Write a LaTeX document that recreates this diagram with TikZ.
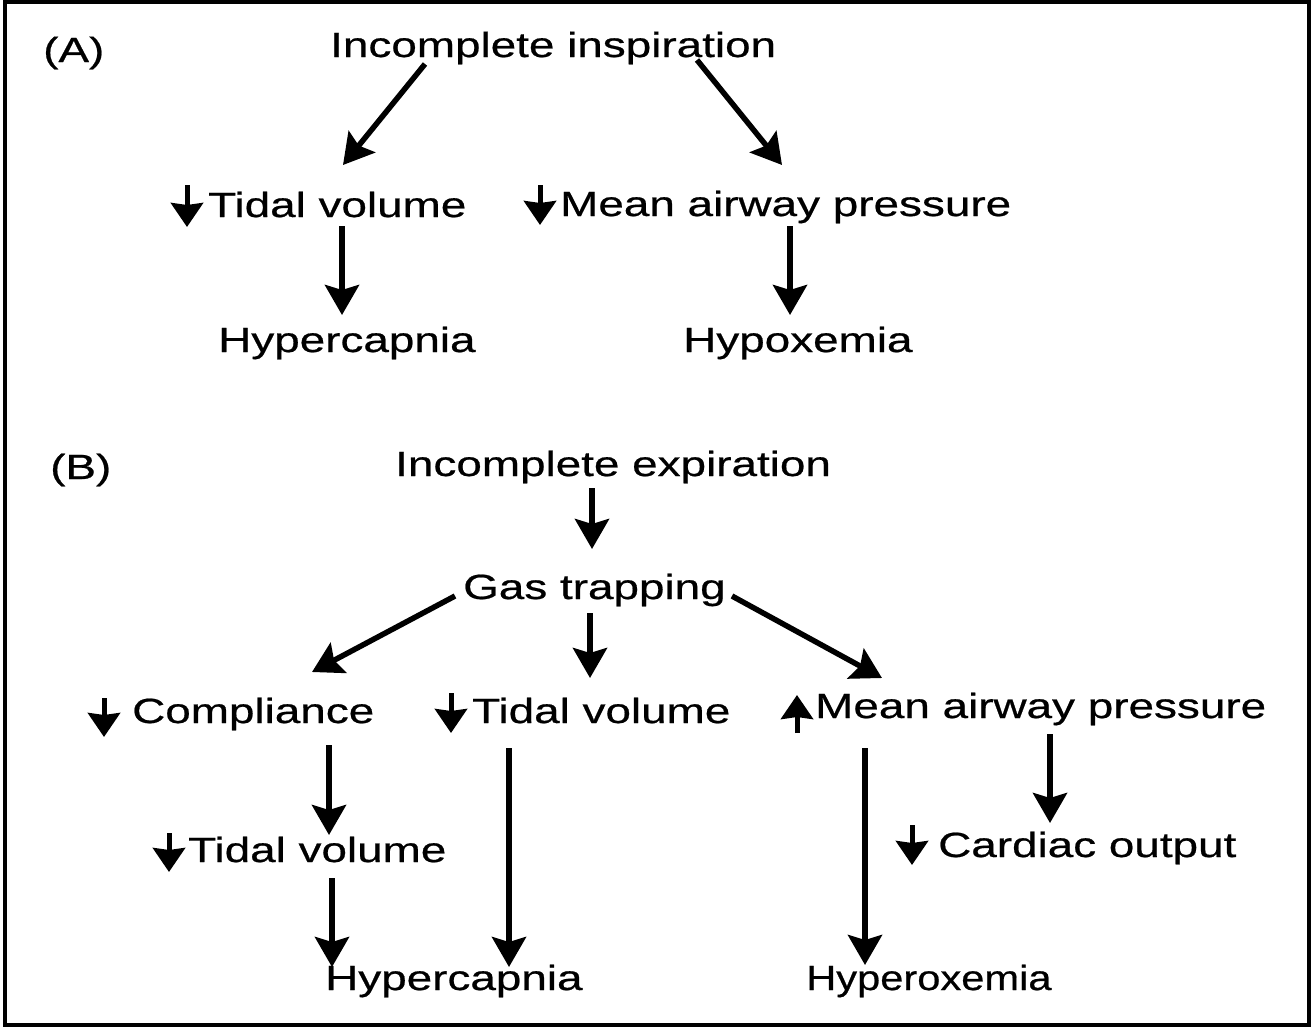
\documentclass[tikz,border=0pt]{standalone}
\usepackage{fontspec}
\newfontfamily\diagfont[FakeStretch=1.31,FakeBold=0.6]{Liberation Sans}
\newfontfamily\narrowfont[FakeStretch=1.19,FakeBold=0.6]{Liberation Sans}
\usetikzlibrary{arrows.meta,calc}
\begin{document}
\begin{tikzpicture}[x=1pt,y=-1pt,
  lbl/.style={inner sep=0pt, anchor=base west, font=\diagfont\fontsize{35}{40}\selectfont},
  arr/.style={line width=5.5pt, -{Stealth[length=30pt,width=34pt,inset=5pt]}},
  glyph/.style={line width=5pt, -{Stealth[length=24pt,width=32pt,inset=2pt]}}]
\useasboundingbox (0,0) rectangle (1313,1028);
\draw[line width=4pt] (5,2) rectangle (1309,1025);
% ---------- (A) ----------
\node[lbl] (labA) at (43,62) {(A)};
\node[lbl] (incA) at (330,57) {Incomplete inspiration};
\node[lbl] (tvA)  at (208,217) {Tidal volume};
\node[lbl] (mapA) at (560,216) {Mean airway pressure};
\node[lbl] (hcA)  at (218,352) {Hypercapnia};
\node[lbl] (hxA)  at (683,352) {Hypoxemia};
\draw[glyph] ($(tvA.base west)+(-21,-32)$) -- ($(tvA.base west)+(-21,10)$);
\draw[glyph] ($(mapA.base west)+(-20,-31)$) -- ($(mapA.base west)+(-20,9)$);
\draw[arr] ($(incA.base west)+(95,7)$) -- ($(tvA.base west)+(135,-52)$);
\draw[arr] ($(incA.base west)+(367,3)$) -- ($(mapA.base west)+(222,-51)$);
\draw[arr] ($(tvA.base west)+(134,9)$) -- ($(hcA.base west)+(124,-37)$);
\draw[arr] ($(mapA.base west)+(230,10)$) -- ($(hxA.base west)+(107,-37)$);
% ---------- (B) ----------
\node[lbl] (labB) at (50,479) {(B)};
\node[lbl] (incB) at (395,476) {Incomplete expiration};
\node[lbl] (gas)  at (463,599) {Gas trapping};
\node[lbl] (comp) at (132,723) {Compliance};
\node[lbl] (tvB1) at (472,723) {Tidal volume};
\node[lbl] (mapB) at (815,718) {Mean airway pressure};
\node[lbl] (tvB2) at (188,862) {Tidal volume};
\node[lbl] (co)   at (938,857) {Cardiac output};
\node[lbl] (hcB)  at (325,990) {Hypercapnia};
\node[lbl, font=\narrowfont\fontsize{35}{40}\selectfont] (hoB) at (806,990) {Hyperoxemia};
\draw[glyph] ($(comp.base west)+(-28,-25)$) -- ($(comp.base west)+(-28,14)$);
\draw[glyph] ($(tvB1.base west)+(-21,-30)$) -- ($(tvB1.base west)+(-21,10)$);
\draw[glyph] ($(mapB.base west)+(-18,15)$) -- ($(mapB.base west)+(-18,-23)$);
\draw[glyph] ($(tvB2.base west)+(-19,-29)$) -- ($(tvB2.base west)+(-19,10)$);
\draw[glyph] ($(co.base west)+(-26,-32)$) -- ($(co.base west)+(-26,8)$);
\draw[arr] ($(incB.base west)+(197,12)$) -- ($(gas.base west)+(129,-50)$);
\draw[arr] ($(gas.base west)+(-8,-3)$) -- ($(comp.base west)+(180,-51)$);
\draw[arr] ($(gas.base west)+(127,14)$) -- ($(tvB1.base west)+(118,-45)$);
\draw[arr] ($(gas.base west)+(269,-3)$) -- ($(mapB.base west)+(67,-40)$);
\draw[arr] ($(comp.base west)+(197,22)$) -- ($(tvB2.base west)+(141,-27)$);
\draw[arr] ($(tvB1.base west)+(37,25)$) -- ($(hcB.base west)+(184,-23)$);
\draw[arr] ($(tvB2.base west)+(144,16)$) -- ($(hcB.base west)+(7,-23)$);
\draw[arr] ($(mapB.base west)+(50,30)$) -- ($(hoB.base west)+(59,-25)$);
\draw[arr] ($(mapB.base west)+(235,16)$) -- ($(co.base west)+(112,-34)$);
\end{tikzpicture}
\end{document}
